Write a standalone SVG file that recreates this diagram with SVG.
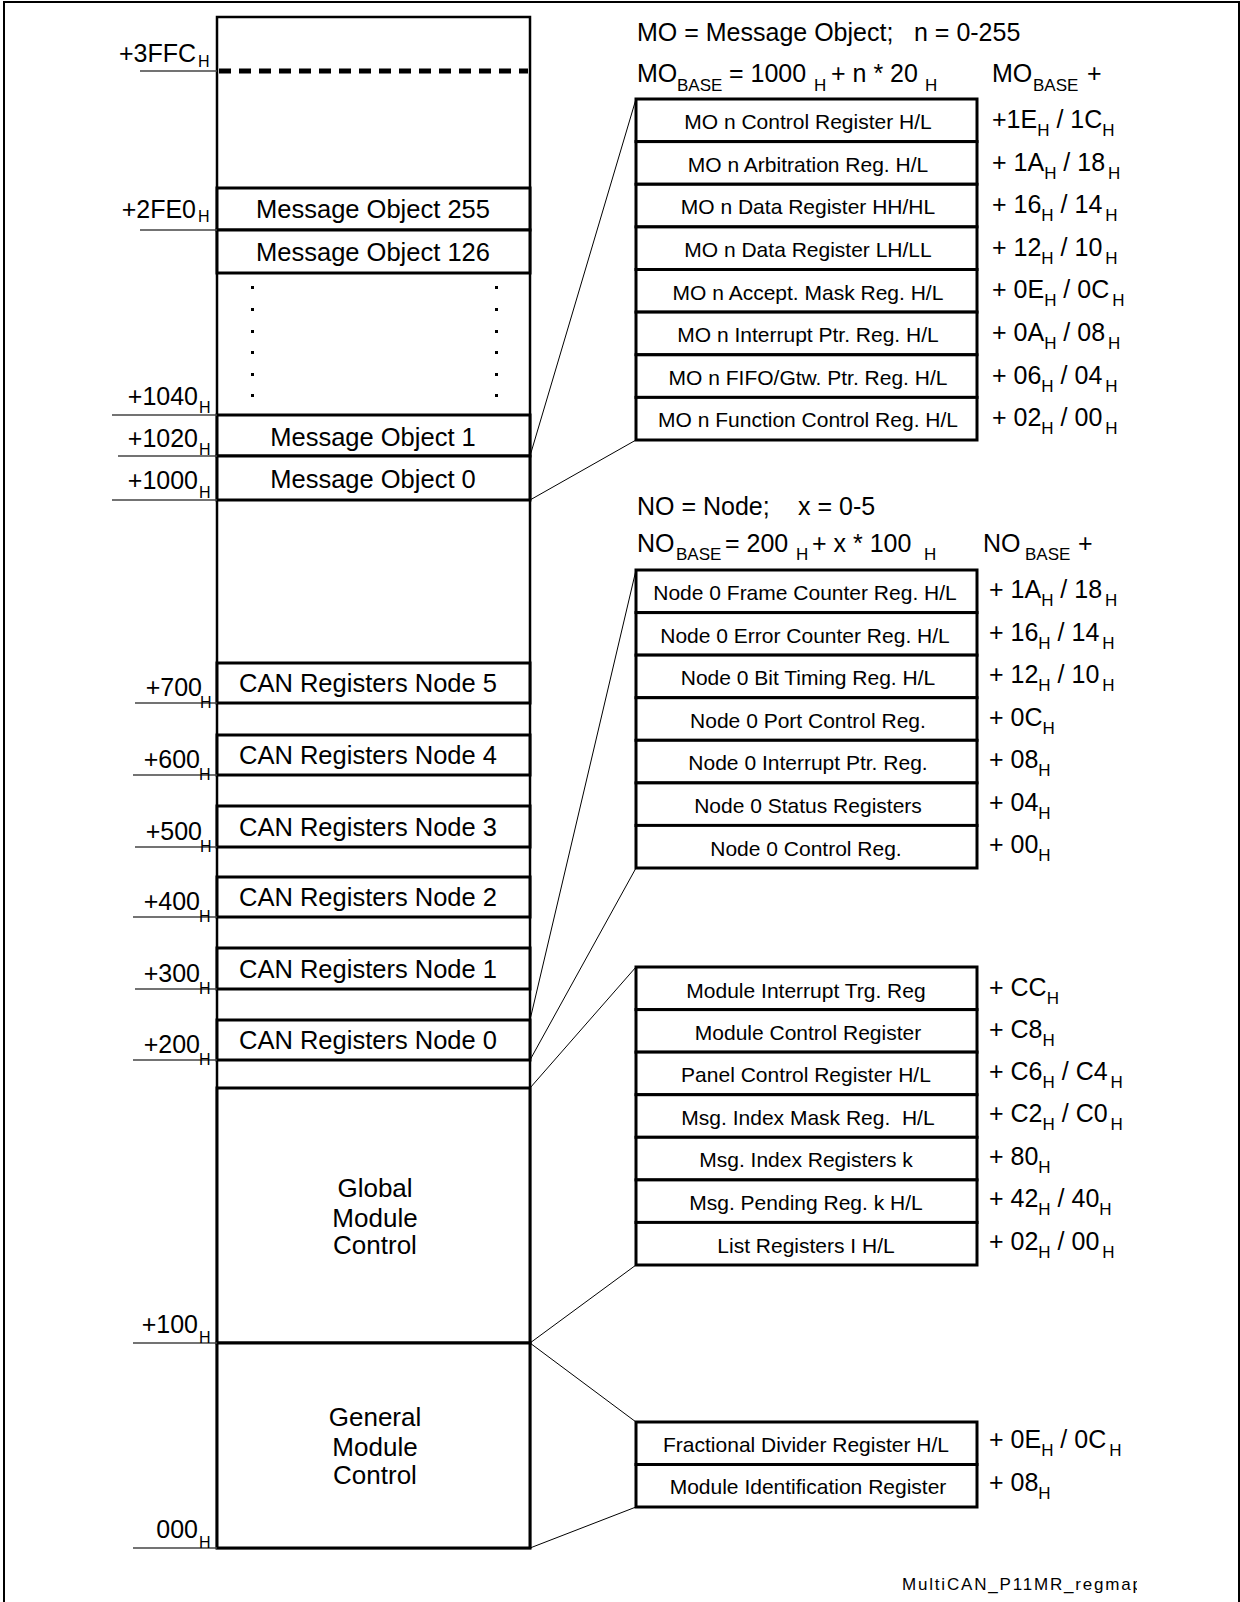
<svg xmlns="http://www.w3.org/2000/svg" width="1240" height="1602" viewBox="0 0 1240 1602">
<defs>
<style>
text{font-family:"Liberation Sans",Arial,sans-serif;fill:#000}
.frame{stroke:#000;stroke-width:2;fill:none}
.col{fill:none;stroke:#000;stroke-width:2.5}
.box{fill:#fff;stroke:#000;stroke-width:3}
.reg{fill:#fff;stroke:#000;stroke-width:3}
.tick{stroke:#444;stroke-width:1.3}
.conn{stroke:#000;stroke-width:1;fill:none}
.dash{stroke:#000;stroke-width:5;stroke-dasharray:12 8}
.big{font-size:25.5px;text-anchor:middle}
.gm{font-size:26px;text-anchor:middle}
.lbl{font-size:25px;text-anchor:end}
.sub{font-size:16px}
.osub{font-size:17px}
.rt{font-size:21px;text-anchor:middle}
.off{font-size:25px}
.hdr{font-size:25px}
.hs{font-size:17px}
</style>
<clipPath id="clipR"><rect x="0" y="0" width="1137" height="1602"/></clipPath>
</defs>
<rect width="1240" height="1602" fill="#fff"/>
<g id="frame">
<polyline class="frame" points="4,1602 4,2 1239,2 1239,1602"/>
</g>

<g id="memory-column">
<rect class="col" x="217" y="17" width="313" height="1531"/>
<line class="dash" x1="219" y1="71" x2="528" y2="71"/>
<g id="dots" fill="#000">
<rect x="251" y="286" width="3" height="3"/><rect x="251" y="308" width="3" height="3"/><rect x="251" y="330" width="3" height="3"/><rect x="251" y="351" width="3" height="3"/><rect x="251" y="373" width="3" height="3"/><rect x="251" y="394" width="3" height="3"/>
<rect x="495" y="286" width="3" height="3"/><rect x="495" y="308" width="3" height="3"/><rect x="495" y="330" width="3" height="3"/><rect x="495" y="351" width="3" height="3"/><rect x="495" y="373" width="3" height="3"/><rect x="495" y="394" width="3" height="3"/>
</g>
</g>

<g id="mo255"><rect class="box" x="217" y="188" width="313" height="42"/><text class="big" x="373" y="218">Message Object 255</text></g>
<g id="mo126"><rect class="box" x="217" y="230" width="313" height="43"/><text class="big" x="373" y="261">Message Object 126</text></g>
<g id="mo1"><rect class="box" x="217" y="415" width="313" height="41"/><text class="big" x="373" y="446">Message Object 1</text></g>
<g id="mo0"><rect class="box" x="217" y="456" width="313" height="44"/><text class="big" x="373" y="488">Message Object 0</text></g>

<g id="can5"><rect class="box" x="217" y="663" width="313" height="40"/><text class="big" x="368" y="692">CAN Registers Node 5</text></g>
<g id="can4"><rect class="box" x="217" y="735" width="313" height="40"/><text class="big" x="368" y="764">CAN Registers Node 4</text></g>
<g id="can3"><rect class="box" x="217" y="806" width="313" height="41"/><text class="big" x="368" y="836">CAN Registers Node 3</text></g>
<g id="can2"><rect class="box" x="217" y="877" width="313" height="40"/><text class="big" x="368" y="906">CAN Registers Node 2</text></g>
<g id="can1"><rect class="box" x="217" y="948" width="313" height="41"/><text class="big" x="368" y="978">CAN Registers Node 1</text></g>
<g id="can0"><rect class="box" x="217" y="1020" width="313" height="40"/><text class="big" x="368" y="1049">CAN Registers Node 0</text></g>

<g id="global"><rect class="box" x="217" y="1088" width="313" height="255"/>
<text class="gm" x="375" y="1197">Global</text><text class="gm" x="375" y="1227">Module</text><text class="gm" x="375" y="1254">Control</text></g>
<g id="general"><rect class="box" x="217" y="1343" width="313" height="205"/>
<text class="gm" x="375" y="1426">General</text><text class="gm" x="375" y="1456">Module</text><text class="gm" x="375" y="1484">Control</text></g>

<g id="addresses">
<line class="tick" x1="140" y1="71" x2="217" y2="71"/><text class="lbl" x="196" y="62">+3FFC</text><text class="sub" x="198" y="67">H</text>
<line class="tick" x1="140" y1="230" x2="217" y2="230"/><text class="lbl" x="196" y="218">+2FE0</text><text class="sub" x="198" y="222">H</text>
<line class="tick" x1="112" y1="415" x2="217" y2="415"/><text class="lbl" x="198" y="405">+1040</text><text class="sub" x="199" y="413">H</text>
<line class="tick" x1="118" y1="456" x2="217" y2="456"/><text class="lbl" x="198" y="447">+1020</text><text class="sub" x="199" y="455">H</text>
<line class="tick" x1="112" y1="500" x2="217" y2="500"/><text class="lbl" x="198" y="489">+1000</text><text class="sub" x="199" y="498">H</text>
<line class="tick" x1="135" y1="703" x2="217" y2="703"/><text class="lbl" x="202" y="696">+700</text><text class="sub" x="200" y="708">H</text>
<line class="tick" x1="133" y1="775" x2="217" y2="775"/><text class="lbl" x="200" y="768">+600</text><text class="sub" x="199" y="780">H</text>
<line class="tick" x1="135" y1="847" x2="217" y2="847"/><text class="lbl" x="202" y="840">+500</text><text class="sub" x="200" y="852">H</text>
<line class="tick" x1="133" y1="917" x2="217" y2="917"/><text class="lbl" x="200" y="910">+400</text><text class="sub" x="199" y="922">H</text>
<line class="tick" x1="135" y1="989" x2="217" y2="989"/><text class="lbl" x="200" y="982">+300</text><text class="sub" x="199" y="994">H</text>
<line class="tick" x1="133" y1="1060" x2="217" y2="1060"/><text class="lbl" x="200" y="1053">+200</text><text class="sub" x="199" y="1065">H</text>
<line class="tick" x1="133" y1="1343" x2="217" y2="1343"/><text class="lbl" x="198" y="1333">+100</text><text class="sub" x="199" y="1343">H</text>
<line class="tick" x1="133" y1="1548" x2="217" y2="1548"/><text class="lbl" x="198" y="1538">000</text><text class="sub" x="199" y="1548">H</text>
</g>

<g id="connectors">
<line class="conn" x1="530" y1="456" x2="636" y2="99"/>
<line class="conn" x1="530" y1="500" x2="636" y2="440"/>
<line class="conn" x1="530" y1="1020" x2="636" y2="570"/>
<line class="conn" x1="530" y1="1060" x2="636" y2="868"/>
<line class="conn" x1="530" y1="1088" x2="636" y2="967"/>
<line class="conn" x1="530" y1="1343" x2="636" y2="1265"/>
<line class="conn" x1="530" y1="1343" x2="636" y2="1422"/>
<line class="conn" x1="530" y1="1548" x2="636" y2="1507"/>
</g>

<g id="mo-header">
<text class="hdr" x="637" y="41">MO = Message Object;</text>
<text class="hdr" x="914" y="41">n = 0-255</text>
<text class="hdr" x="637" y="82">MO</text><text class="hs" x="677" y="91">BASE</text>
<text class="hdr" x="729" y="82">= 1000</text><text class="hs" x="814" y="91">H</text>
<text class="hdr" x="831" y="82">+ n * 20</text><text class="hs" x="925" y="91">H</text>
<text class="hdr" x="992" y="82">MO</text><text class="hs" x="1033" y="91">BASE</text>
<text class="hdr" x="1087" y="82">+</text>
</g>

<g id="mo-registers">
<g id="mo-r1"><rect class="reg" x="636" y="99" width="341" height="42.6"/><text class="rt" x="808" y="129">MO n Control Register H/L</text><text class="off" x="992" y="128">+1E<tspan class="osub" dy="8">H</tspan><tspan dy="-8"> / 1C</tspan><tspan class="osub" dy="8">H</tspan></text></g>
<g id="mo-r2"><rect class="reg" x="636" y="141.6" width="341" height="42.6"/><text class="rt" x="808" y="171.5">MO n Arbitration Reg. H/L</text><text class="off" x="992" y="171">+ 1A<tspan class="osub" dy="8">H</tspan><tspan dy="-8"> / 18</tspan><tspan class="osub" dx="3" dy="8">H</tspan></text></g>
<g id="mo-r3"><rect class="reg" x="636" y="184.3" width="341" height="42.6"/><text class="rt" x="808" y="214">MO n Data Register HH/HL</text><text class="off" x="992" y="213">+ 16<tspan class="osub" dy="8">H</tspan><tspan dy="-8"> / 14</tspan><tspan class="osub" dx="3" dy="8">H</tspan></text></g>
<g id="mo-r4"><rect class="reg" x="636" y="226.9" width="341" height="42.6"/><text class="rt" x="808" y="257">MO n Data Register LH/LL</text><text class="off" x="992" y="256">+ 12<tspan class="osub" dy="8">H</tspan><tspan dy="-8"> / 10</tspan><tspan class="osub" dx="3" dy="8">H</tspan></text></g>
<g id="mo-r5"><rect class="reg" x="636" y="269.5" width="341" height="42.6"/><text class="rt" x="808" y="299.5">MO n Accept. Mask Reg. H/L</text><text class="off" x="992" y="298">+ 0E<tspan class="osub" dy="8">H</tspan><tspan dy="-8"> / 0C</tspan><tspan class="osub" dx="3" dy="8">H</tspan></text></g>
<g id="mo-r6"><rect class="reg" x="636" y="312.1" width="341" height="42.6"/><text class="rt" x="808" y="342">MO n Interrupt Ptr. Reg. H/L</text><text class="off" x="992" y="341">+ 0A<tspan class="osub" dy="8">H</tspan><tspan dy="-8"> / 08</tspan><tspan class="osub" dx="3" dy="8">H</tspan></text></g>
<g id="mo-r7"><rect class="reg" x="636" y="354.8" width="341" height="42.6"/><text class="rt" x="808" y="384.5">MO n FIFO/Gtw. Ptr. Reg. H/L</text><text class="off" x="992" y="384">+ 06<tspan class="osub" dy="8">H</tspan><tspan dy="-8"> / 04</tspan><tspan class="osub" dx="3" dy="8">H</tspan></text></g>
<g id="mo-r8"><rect class="reg" x="636" y="397.4" width="341" height="42.6"/><text class="rt" x="808" y="427">MO n Function Control Reg. H/L</text><text class="off" x="992" y="426">+ 02<tspan class="osub" dy="8">H</tspan><tspan dy="-8"> / 00</tspan><tspan class="osub" dx="3" dy="8">H</tspan></text></g>
</g>

<g id="node-header">
<text class="hdr" x="637" y="515">NO = Node;</text>
<text class="hdr" x="798" y="515">x = 0-5</text>
<text class="hdr" x="637" y="552">NO</text><text class="hs" x="676" y="560">BASE</text>
<text class="hdr" x="725" y="552">= 200</text><text class="hs" x="796" y="560">H</text>
<text class="hdr" x="812" y="552">+ x * 100</text><text class="hs" x="924" y="560">H</text>
<text class="hdr" x="983" y="552">NO</text><text class="hs" x="1025" y="560">BASE</text>
<text class="hdr" x="1078" y="552">+</text>
</g>

<g id="node-registers">
<g id="no-r1"><rect class="reg" x="636" y="570" width="341" height="42.6"/><text class="rt" x="805" y="600">Node 0 Frame Counter Reg. H/L</text><text class="off" x="989" y="598">+ 1A<tspan class="osub" dy="8">H</tspan><tspan dy="-8"> / 18</tspan><tspan class="osub" dx="3" dy="8">H</tspan></text></g>
<g id="no-r2"><rect class="reg" x="636" y="612.6" width="341" height="42.6"/><text class="rt" x="805" y="643">Node 0 Error Counter Reg. H/L</text><text class="off" x="989" y="641">+ 16<tspan class="osub" dy="8">H</tspan><tspan dy="-8"> / 14</tspan><tspan class="osub" dx="3" dy="8">H</tspan></text></g>
<g id="no-r3"><rect class="reg" x="636" y="655.1" width="341" height="42.6"/><text class="rt" x="808" y="685">Node 0 Bit Timing Reg. H/L</text><text class="off" x="989" y="683">+ 12<tspan class="osub" dy="8">H</tspan><tspan dy="-8"> / 10</tspan><tspan class="osub" dx="3" dy="8">H</tspan></text></g>
<g id="no-r4"><rect class="reg" x="636" y="697.7" width="341" height="42.6"/><text class="rt" x="808" y="728">Node 0 Port Control Reg.</text><text class="off" x="989" y="726">+ 0C<tspan class="osub" dy="8">H</tspan></text></g>
<g id="no-r5"><rect class="reg" x="636" y="740.3" width="341" height="42.6"/><text class="rt" x="808" y="770">Node 0 Interrupt Ptr. Reg.</text><text class="off" x="989" y="768">+ 08<tspan class="osub" dy="8">H</tspan></text></g>
<g id="no-r6"><rect class="reg" x="636" y="782.9" width="341" height="42.6"/><text class="rt" x="808" y="813">Node 0 Status Registers</text><text class="off" x="989" y="811">+ 04<tspan class="osub" dy="8">H</tspan></text></g>
<g id="no-r7"><rect class="reg" x="636" y="825.4" width="341" height="42.6"/><text class="rt" x="806" y="856">Node 0 Control Reg.</text><text class="off" x="989" y="853">+ 00<tspan class="osub" dy="8">H</tspan></text></g>
</g>

<g id="module-registers">
<g id="gm-r1"><rect class="reg" x="636" y="967" width="341" height="42.6"/><text class="rt" x="806" y="998">Module Interrupt Trg. Reg</text><text class="off" x="989" y="996">+ CC<tspan class="osub" dy="8">H</tspan></text></g>
<g id="gm-r2"><rect class="reg" x="636" y="1009.6" width="341" height="42.6"/><text class="rt" x="808" y="1040">Module Control Register</text><text class="off" x="989" y="1038">+ C8<tspan class="osub" dy="8">H</tspan></text></g>
<g id="gm-r3"><rect class="reg" x="636" y="1052.1" width="341" height="42.6"/><text class="rt" x="806" y="1082">Panel Control Register H/L</text><text class="off" x="989" y="1080">+ C6<tspan class="osub" dy="8">H</tspan><tspan dy="-8"> / C4</tspan><tspan class="osub" dx="3" dy="8">H</tspan></text></g>
<g id="gm-r4"><rect class="reg" x="636" y="1094.7" width="341" height="42.6"/><text class="rt" x="808" y="1125" xml:space="preserve">Msg. Index Mask Reg.  H/L</text><text class="off" x="989" y="1122">+ C2<tspan class="osub" dy="8">H</tspan><tspan dy="-8"> / C0</tspan><tspan class="osub" dx="3" dy="8">H</tspan></text></g>
<g id="gm-r5"><rect class="reg" x="636" y="1137.3" width="341" height="42.6"/><text class="rt" x="806" y="1167">Msg. Index Registers k</text><text class="off" x="989" y="1165">+ 80<tspan class="osub" dy="8">H</tspan></text></g>
<g id="gm-r6"><rect class="reg" x="636" y="1179.9" width="341" height="42.6"/><text class="rt" x="806" y="1210">Msg. Pending Reg. k H/L</text><text class="off" x="989" y="1207">+ 42<tspan class="osub" dy="8">H</tspan><tspan dy="-8"> / 40</tspan><tspan class="osub" dy="8">H</tspan></text></g>
<g id="gm-r7"><rect class="reg" x="636" y="1222.4" width="341" height="42.6"/><text class="rt" x="806" y="1253">List Registers I H/L</text><text class="off" x="989" y="1250">+ 02<tspan class="osub" dy="8">H</tspan><tspan dy="-8"> / 00</tspan><tspan class="osub" dx="3" dy="8">H</tspan></text></g>
</g>

<g id="general-registers">
<g id="gn-r1"><rect class="reg" x="636" y="1422" width="341" height="42.5"/><text class="rt" x="806" y="1452">Fractional Divider Register H/L</text><text class="off" x="989" y="1448">+ 0E<tspan class="osub" dy="8">H</tspan><tspan dy="-8"> / 0C</tspan><tspan class="osub" dx="3" dy="8">H</tspan></text></g>
<g id="gn-r2"><rect class="reg" x="636" y="1464.5" width="341" height="42.5"/><text class="rt" x="808" y="1494">Module Identification Register</text><text class="off" x="989" y="1491">+ 08<tspan class="osub" dy="8">H</tspan></text></g>
</g>

<g id="footer" clip-path="url(#clipR)">
<text x="902" y="1590" font-size="17" textLength="240" lengthAdjust="spacing">MultiCAN_P11MR_regmap</text>
</g>
</svg>
